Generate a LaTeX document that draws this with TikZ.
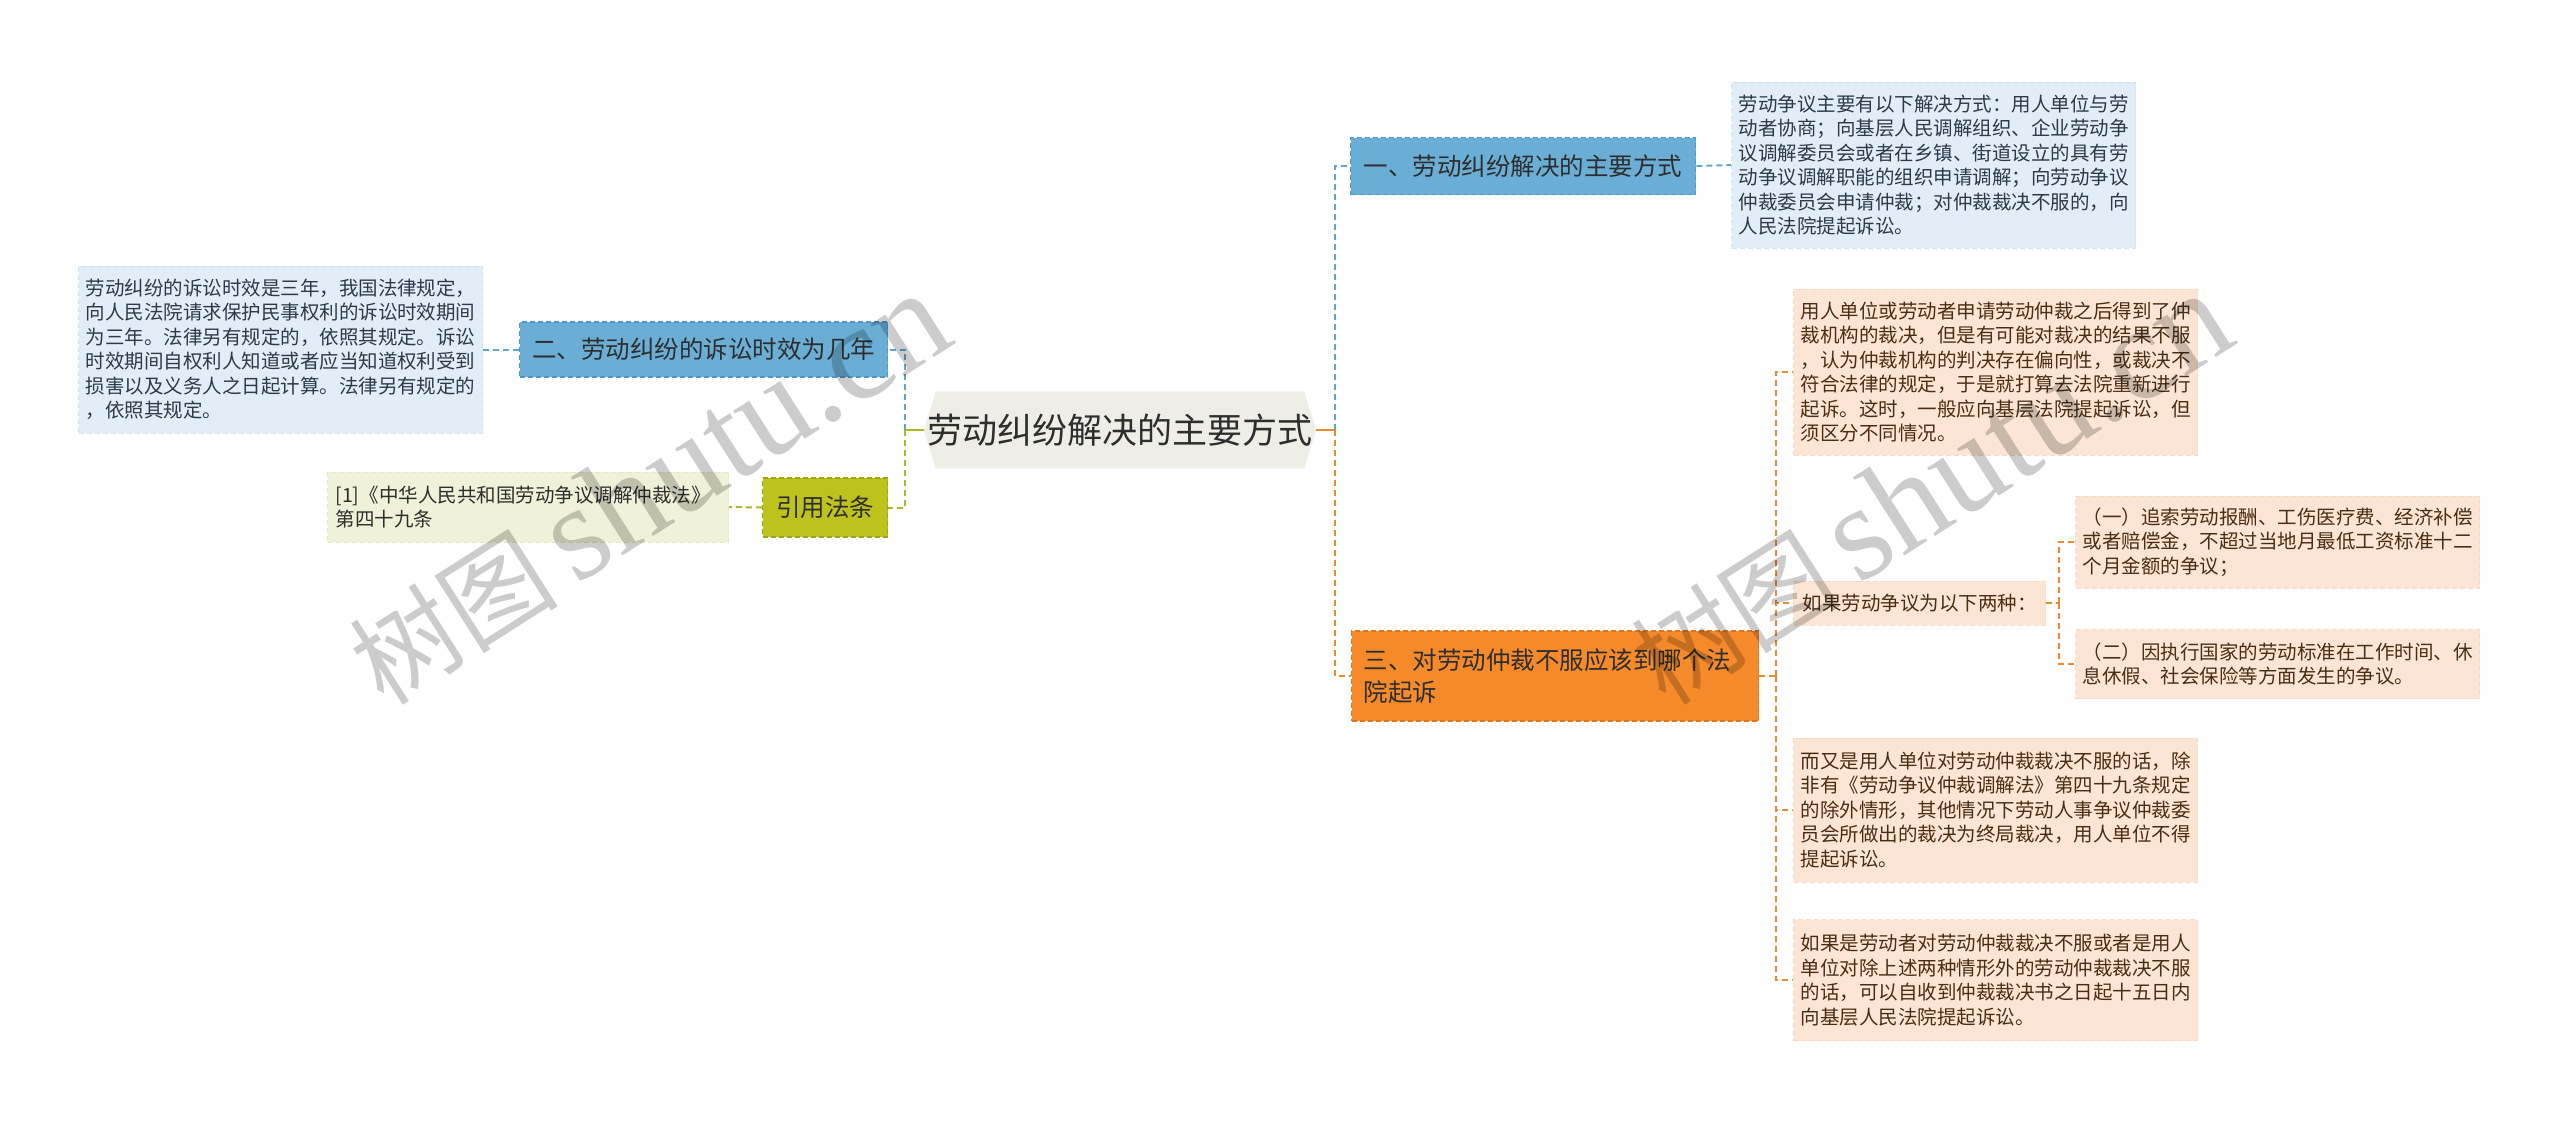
\documentclass[tikz,border=0pt]{standalone}
\usepackage{fontspec}
\setmainfont{Noto Sans CJK SC}
\newfontfamily\wmlat{Liberation Serif}
\usetikzlibrary{backgrounds}
\definecolor{rootfill}{HTML}{EEEEE6}
\definecolor{bluefill}{HTML}{6AAED5}
\definecolor{blueline}{HTML}{4F98C6}
\definecolor{bluelight}{HTML}{E1EEF7}
\definecolor{olivefill}{HTML}{BDC21C}
\definecolor{oliveline}{HTML}{A0A514}
\definecolor{yellowlight}{HTML}{EFF2D8}
\definecolor{orangefill}{HTML}{F58A2B}
\definecolor{orangeline}{HTML}{E0741A}
\definecolor{orangelight}{HTML}{FCE5D4}
\definecolor{cblue}{HTML}{5FA5D0}
\definecolor{cgreen}{HTML}{AAB924}
\definecolor{corange}{HTML}{EC8A30}
\definecolor{txtdark}{HTML}{2E2E2E}
\definecolor{txtblue}{HTML}{2C3A4A}
\definecolor{txtbrown}{HTML}{4A2E14}
\begin{document}
\begin{tikzpicture}[x=1pt,y=-1pt,
  mainbox/.style={anchor=west, inner sep=0pt, line width=1.4pt, dash pattern=on 5pt off 3pt,
    font=\fontsize{24.5}{32}\selectfont, text=txtdark},
  detailbox/.style={anchor=west, align=left, inner xsep=7pt, inner ysep=0pt, line width=1pt,
    dash pattern=on 5pt off 3pt, font=\fontsize{19.5}{24.5}\selectfont},
  conn/.style={line width=2pt, dash pattern=on 6pt off 4pt},
  solidconn/.style={line width=2.4pt},
  wm/.style={anchor=base west, rotate=32.5, text=black, opacity=0.2, inner sep=0pt}
]
\useasboundingbox (0,0) rectangle (2560,1122);

% root
\node[inner sep=0pt, minimum width=392pt, minimum height=77pt,
  font=\fontsize{35}{40}\selectfont, text=txtdark] (root) at (1120,430) {劳动纠纷解决的主要方式};
\begin{scope}[on background layer]
\fill[rootfill] (root.west) -- ([xshift=12pt]root.north west) -- ([xshift=-12pt]root.north east)
  -- (root.east) -- ([xshift=-12pt]root.south east) -- ([xshift=12pt]root.south west) -- cycle;
\end{scope}

% main branches
\node[mainbox, fill=bluefill, draw=blueline, minimum width=345pt, minimum height=57pt] (n1) at (1350,166) {一、劳动纠纷解决的主要方式};
\node[mainbox, fill=bluefill, draw=blueline, minimum width=368pt, minimum height=55pt] (n2) at (519,349.5) {二、劳动纠纷的诉讼时效为几年};
\node[mainbox, fill=olivefill, draw=oliveline, minimum width=125pt, minimum height=59pt] (cite) at (762,507.5) {引用法条};
\node[mainbox, fill=orangefill, draw=orangeline, minimum width=407pt, minimum height=90pt,
  align=left, text width=383pt, inner xsep=12pt] (n3) at (1351,676) {三、对劳动仲裁不服应该到哪个法\\院起诉};

% detail boxes
\node[detailbox, fill=bluelight, draw=bluelight!88!blueline, text=txtblue, text width=390pt, minimum height=166pt] (d1) at (1731,165)
{劳动争议主要有以下解决方式：用人单位与劳\\动者协商；向基层人民调解组织、企业劳动争\\议调解委员会或者在乡镇、街道设立的具有劳\\动争议调解职能的组织申请调解；向劳动争议\\仲裁委员会申请仲裁；对仲裁裁决不服的，向\\人民法院提起诉讼。};
\node[detailbox, fill=bluelight, draw=bluelight!88!blueline, text=txtblue, text width=390pt, minimum height=167pt] (d2) at (78,349.5)
{劳动纠纷的诉讼时效是三年，我国法律规定，\\向人民法院请求保护民事权利的诉讼时效期间\\为三年。法律另有规定的，依照其规定。诉讼\\时效期间自权利人知道或者应当知道权利受到\\损害以及义务人之日起计算。法律另有规定的\\，依照其规定。};
\node[detailbox, fill=yellowlight, draw=yellowlight!88!oliveline, text=txtdark, text width=385pt, inner xsep=8pt, minimum height=70pt] (ref) at (327,507)
{[1]《中华人民共和国劳动争议调解仲裁法》\\第四十九条};
\node[detailbox, fill=orangelight, draw=orangelight!90!orangeline, text=txtbrown, text width=390pt, minimum height=166pt] (o1) at (1793,372)
{用人单位或劳动者申请劳动仲裁之后得到了仲\\裁机构的裁决，但是有可能对裁决的结果不服\\，认为仲裁机构的判决存在偏向性，或裁决不\\符合法律的规定，于是就打算去法院重新进行\\起诉。这时，一般应向基层法院提起诉讼，但\\须区分不同情况。};
\node[detailbox, fill=orangelight, draw=orangelight!90!orangeline, text=txtbrown, inner xsep=9pt, minimum width=251pt, minimum height=44pt] (o2) at (1793,603)
{如果劳动争议为以下两种：};
\node[detailbox, fill=orangelight, draw=orangelight!90!orangeline, text=txtbrown, text width=390pt, minimum height=92pt] (oa) at (2075,542)
{（一）追索劳动报酬、工伤医疗费、经济补偿\\或者赔偿金，不超过当地月最低工资标准十二\\个月金额的争议；};
\node[detailbox, fill=orangelight, draw=orangelight!90!orangeline, text=txtbrown, text width=390pt, minimum height=69pt] (ob) at (2075,664)
{（二）因执行国家的劳动标准在工作时间、休\\息休假、社会保险等方面发生的争议。};
\node[detailbox, fill=orangelight, draw=orangelight!90!orangeline, text=txtbrown, text width=390pt, minimum height=144pt] (o3) at (1793,810)
{而又是用人单位对劳动仲裁裁决不服的话，除\\非有《劳动争议仲裁调解法》第四十九条规定\\的除外情形，其他情况下劳动人事争议仲裁委\\员会所做出的裁决为终局裁决，用人单位不得\\提起诉讼。};
\node[detailbox, fill=orangelight, draw=orangelight!90!orangeline, text=txtbrown, text width=390pt, minimum height=121pt] (o4) at (1793,980)
{如果是劳动者对劳动仲裁裁决不服或者是用人\\单位对除上述两种情形外的劳动仲裁裁决不服\\的话，可以自收到仲裁裁决书之日起十五日内\\向基层人民法院提起诉讼。};

% junctions
\coordinate (jr) at (1335,430);
\coordinate (jl) at (905,430);
\coordinate (j3) at (1776,676);
\coordinate (j2) at (2059,603);

% connectors right of root
\draw[solidconn, corange] (root.east) -- (jr);
\draw[conn, cblue] (jr) |- (n1.west);
\draw[conn, corange] (jr) |- (n3.west);
% connectors left of root
\draw[solidconn, cgreen] (root.west) -- (jl);
\draw[conn, cblue] (jl) |- (n2.east);
\draw[conn, cgreen] (jl) |- (cite.east);
% branch to details
\draw[conn, cblue] (n1.east) -- (d1.west);
\draw[conn, cblue] (n2.west) -- (d2.east);
\draw[conn, cgreen] (cite.west) -- (ref.east);
\draw[conn, corange] (n3.east) -- (j3);
\draw[conn, corange] (j3) |- (o1.west);
\draw[conn, corange] (j3) |- (o2.west);
\draw[conn, corange] (j3) |- (o3.west);
\draw[conn, corange] (j3) |- (o4.west);
\draw[conn, corange] (o2.east) -- (j2);
\draw[conn, corange] (j2) |- (oa.west);
\draw[conn, corange] (j2) |- (ob.west);

% watermarks
\node[wm] (wm1) at (384,708) {\fontsize{105}{105}\selectfont 树图\,{\wmlat\fontsize{135}{135}\selectfont shutu.cn}};
\node[wm] (wm2) at (1666,708) {\fontsize{105}{105}\selectfont 树图\,{\wmlat\fontsize{135}{135}\selectfont shutu.cn}};
\end{tikzpicture}
\end{document}
